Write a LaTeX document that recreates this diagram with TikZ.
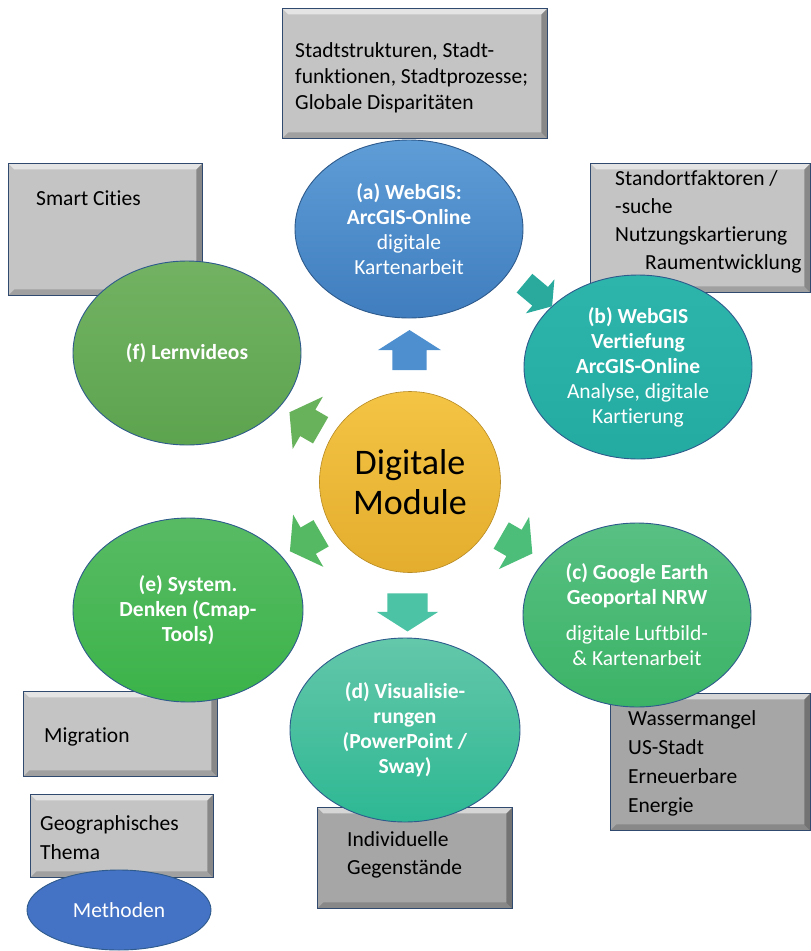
\documentclass[tikz,border=0pt]{standalone}
\usepackage{fontspec}
\setmainfont{Carlito}[Ligatures=NoCommon]
\usetikzlibrary{shapes.geometric,shapes.arrows,calc,positioning}
\definecolor{boxgrey}{HTML}{C3C4C3}
\definecolor{boxdark}{HTML}{A5A6A5}
\definecolor{boxrim}{HTML}{2F4A6E}
\definecolor{modrim}{HTML}{2E5A8C}
\definecolor{aTop}{HTML}{5E9DD6}\definecolor{aBot}{HTML}{3F7DBF}
\definecolor{bTop}{HTML}{2DB5AC}\definecolor{bBot}{HTML}{24ABA1}
\definecolor{cTop}{HTML}{58C083}\definecolor{cBot}{HTML}{3BB366}
\definecolor{dTop}{HTML}{64C7AA}\definecolor{dBot}{HTML}{2DB893}
\definecolor{eTop}{HTML}{58BB64}\definecolor{eBot}{HTML}{3BB349}
\definecolor{fTop}{HTML}{72B262}\definecolor{fBot}{HTML}{5DA44F}
\definecolor{mTop}{HTML}{F4C445}\definecolor{mBot}{HTML}{E4AD2D}
\definecolor{methc}{HTML}{4472C4}
\definecolor{pfUp}{HTML}{4E8FD0}\definecolor{pfDown}{HTML}{4CC3A5}
\definecolor{pfUL}{HTML}{68B25C}\definecolor{pfLL}{HTML}{55B862}
\definecolor{pfLR}{HTML}{4DBD7A}\definecolor{pfAB}{HTML}{2AAA9D}
\newcommand{\boxfont}{\fontsize{21.5}{26}\selectfont}
\newcommand{\modfont}{\fontsize{21.5}{25}\selectfont}
\tikzset{
  bevel/.style={path picture={
    \fill[white,opacity=0.55] (path picture bounding box.north west) -- (path picture bounding box.north east)
      -- ([shift={(-6pt,-6pt)}]path picture bounding box.north east) -- ([shift={(6pt,-6pt)}]path picture bounding box.north west) -- cycle;
    \fill[black,opacity=0.3] (path picture bounding box.north east) -- (path picture bounding box.south east)
      -- ([shift={(-6pt,6pt)}]path picture bounding box.south east) -- ([shift={(-6pt,-6pt)}]path picture bounding box.north east) -- cycle;
    \fill[black,opacity=0.18] (path picture bounding box.south west) -- (path picture bounding box.south east)
      -- ([shift={(-6pt,6pt)}]path picture bounding box.south east) -- ([shift={(6pt,6pt)}]path picture bounding box.south west) -- cycle;
  }},
  topic/.style={rectangle, draw=boxrim, line width=0.8pt, fill=boxgrey, anchor=north west, inner sep=0pt, bevel},
  topicdark/.style={topic, fill=boxdark},
  topictext/.style={anchor=north west, align=left, inner sep=0pt, font=\boxfont},
  modul/.style={ellipse, draw=modrim, line width=0.9pt, inner sep=0pt, minimum width=228pt, minimum height=184pt},
  modtext/.style={align=center, inner sep=0pt, text=white, font=\modfont},
  pfeil/.style={single arrow, draw=none, inner xsep=0pt, inner ysep=15pt, single arrow head extend=15pt,
    single arrow tip angle=110, minimum height=36pt, minimum width=60pt}
}

\begin{document}
\begin{tikzpicture}[x=1pt,y=-1pt]
  \useasboundingbox (0,0) rectangle (811,951);
  % ---- Themen
  \node[topic, minimum width=265pt, minimum height=130pt] (themaA) at (282,8) {};
  \node[topic, minimum width=194pt, minimum height=132pt] (themaF) at (8,163) {};
  \node[topic, minimum width=220pt, minimum height=129pt] (themaB) at (590,163) {};
  \node[topic, minimum width=194pt, minimum height=85pt] (themaE) at (23,691) {};
  \node[topic, minimum width=183pt, minimum height=83pt] (legThema) at (30,794) {};
  \node[topicdark, minimum width=195pt, minimum height=101pt] (themaD) at (317,807) {};
  \node[topicdark, minimum width=200pt, minimum height=137pt] (themaC) at (610,693) {};

  \node[topictext] (themaAtxt) at (295,39) {\strut Stadtstrukturen, Stadt-\\funktionen, Stadtprozesse;\\Globale Disparitäten};
  \node[topictext] (themaFtxt) at (36,187) {\strut Smart Cities};
  \node[topictext, font=\fontsize{21.5}{28}\selectfont] (themaBtxt) at (615,166)
    {\strut Standortfaktoren /\\ -suche\\Nutzungskartierung\\\hspace*{30pt}Raumentwicklung};
  \node[topictext] (themaEtxt) at (44,724) {\strut Migration};
  \node[topictext, font=\fontsize{21.5}{29}\selectfont] (legThematxt) at (40,810) {\strut Geographisches\\Thema};
  \node[topictext, font=\fontsize{21.5}{28}\selectfont] (themaDtxt) at (347,827) {\strut Individuelle\\Gegenstände};
  \node[topictext, font=\fontsize{21.5}{29}\selectfont] (themaCtxt) at (628,705) {\strut Wassermangel\\US-Stadt\\Erneuerbare\\Energie};

  % ---- Module
  \node[modul, top color=aTop, bottom color=aBot, minimum height=178pt] (modA) at (409,229) {};
  \node[modul, top color=bTop, bottom color=bBot] (modB) at (638,367) {};
  \node[modul, top color=cTop, bottom color=cBot] (modC) at (637,615) {};
  \node[modul, top color=dTop, bottom color=dBot, minimum width=230pt] (modD) at (405,730) {};
  \node[modul, top color=eTop, bottom color=eBot, minimum width=230pt] (modE) at (188,610) {};
  \node[modul, top color=fTop, bottom color=fBot] (modF) at (187,353) {};
  \node[circle, draw=mBot!80!black, line width=0.6pt, top color=mTop, bottom color=mBot,
    minimum size=181pt, inner sep=0pt] (mitte) at (410,482) {};
  \node[ellipse, draw=modrim, line width=0.9pt, fill=methc, minimum width=184pt, minimum height=80pt,
    inner sep=0pt] (legMethode) at (119,910) {};

  \node[modtext] (modAtxt) at (modA) {\textbf{(a) WebGIS:}\\\textbf{ArcGIS-Online}\\digitale\\Kartenarbeit};
  \node[modtext] (modBtxt) at (modB) {\textbf{(b) WebGIS}\\\textbf{Vertiefung}\\\textbf{ArcGIS-Online}\\Analyse, digitale\\Kartierung};
  \node[modtext] (modCtxt) at (modC) {\textbf{(c) Google Earth}\\\textbf{Geoportal NRW}\\[11pt]digitale Luftbild-\\\& Kartenarbeit};
  \node[modtext] (modDtxt) at (modD) {\textbf{(d) Visualisie-}\\\textbf{rungen}\\\textbf{(PowerPoint /}\\\textbf{Sway)}};
  \node[modtext] (modEtxt) at (modE) {\textbf{(e) System.}\\\textbf{Denken (Cmap-}\\\textbf{Tools)}};
  \node[modtext] (modFtxt) at (modF) {\textbf{(f) Lernvideos}};
  \node[align=center, inner sep=0pt, font=\fontsize{36}{40}\selectfont] (mittetxt) at (mitte) {Digitale\\Module};
  \node[modtext] (legMethodetxt) at (legMethode) {Methoden};

  % ---- Pfeile
  \node[pfeil, fill=pfUp, rotate=90, inner ysep=17pt, minimum height=40pt, minimum width=63pt,
    single arrow head extend=14.5pt, single arrow tip angle=115] (pfeilA) at ($(mitte)!0.5!(modA)$) {};
  \node[pfeil, fill=pfDown, rotate=-90, inner ysep=20pt, minimum height=38pt, minimum width=61pt,
    single arrow head extend=10.5pt, single arrow tip angle=115] (pfeilD) at ($(mitte)!0.5!(modD)$) {};
  \node[pfeil, fill=pfUL, rotate=150] (pfeilF) at ($(mitte)!0.45!(modF)$) {};
  \node[pfeil, fill=pfLL, rotate=210] (pfeilE) at ($(mitte)!0.45!(modE)$) {};
  \node[pfeil, fill=pfLR, rotate=-30] (pfeilC) at ($(mitte)!0.45!(modC)$) {};
  \node[pfeil, fill=pfAB, rotate=-40, inner ysep=12pt, minimum height=36pt, minimum width=44pt,
    single arrow head extend=10pt] (pfeilB) at (535,292) {};
\end{tikzpicture}
\end{document}
